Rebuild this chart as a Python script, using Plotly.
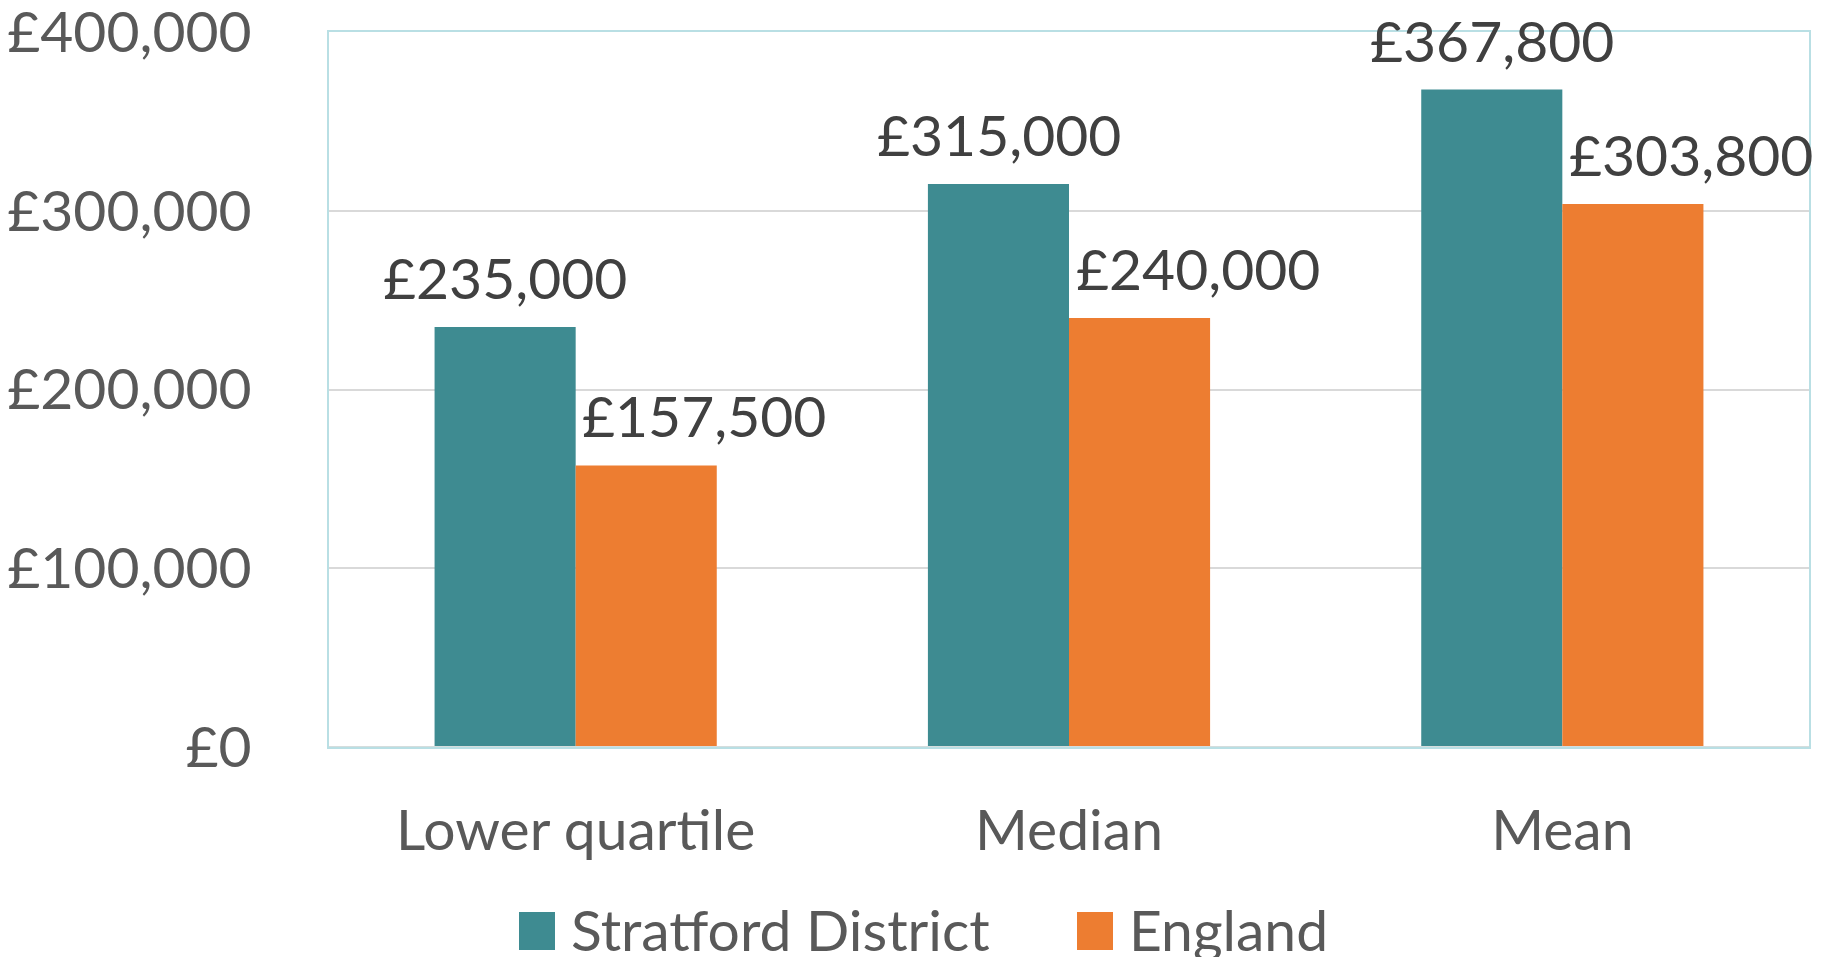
import plotly.graph_objects as go

categories = ["Lower quartile", "Median", "Mean"]
stratford = [235000, 315000, 367800]
england = [157500, 240000, 303800]
series_names = ["Stratford District", "England"]
y_tickvals = [0, 100000, 200000, 300000, 400000]
y_ticktext = ["£0", "£100,000", "£200,000", "£300,000", "£400,000"]

TEAL = "#3E8B91"
ORANGE = "#ED7D31"
FONT = "Lato"
FS = 57

# layout geometry (pixels); page body adds an 8px offset, so the figure is
# sized to fit the 1822x957 window exactly
OFF = 8
W, H = 1822 - OFF, 957 - OFF
ML, MR, MT, MB = 321, 13, 24, 210
PW = W - ML - MR
PH = H - MT - MB
BAR_PX = 141

fig = go.Figure()
series = [(series_names[0], stratford, TEAL), (series_names[1], england, ORANGE)]
for name, vals, col in series:
    fig.add_trace(go.Bar(
        x=categories, y=vals, name=name,
        marker=dict(color=col, line=dict(width=0)),
        showlegend=False, cliponaxis=False,
    ))

# data labels
for i, (name, vals, col) in enumerate(series):
    for c, v in zip(categories, vals):
        xs = -BAR_PX / 2 if i == 0 else BAR_PX / 2 + 58
        fig.add_annotation(x=c, y=v, xref="x", yref="y", text=f"£{v:,}",
                           showarrow=False, xshift=xs, yshift=50,
                           xanchor="center", yanchor="middle",
                           font=dict(family=FONT, size=FS, color="#404040"))

# legend (drawn manually to match large square swatches); positions in screen px
def px2paper_x(px):
    return (px - OFF - ML) / PW

def px2paper_y(py):
    return (H - MB - (py - OFF)) / PH

legend_items = [(series_names[0], TEAL, 519), (series_names[1], ORANGE, 1077)]
for name, col, x0 in legend_items:
    fig.add_shape(type="rect", xref="paper", yref="paper",
                  x0=px2paper_x(x0), x1=px2paper_x(x0 + 36),
                  y0=px2paper_y(950), y1=px2paper_y(912),
                  fillcolor=col, line=dict(width=0))
    fig.add_annotation(xref="paper", yref="paper", x=px2paper_x(x0 + 50),
                       y=px2paper_y(929), text=name, showarrow=False,
                       xanchor="left", yanchor="middle",
                       font=dict(family=FONT, size=FS, color="#595959"))

fig.update_layout(
    width=W, height=H,
    margin=dict(l=ML, r=MR, t=MT, b=MB),
    barmode="group", bargap=0.428, bargroupgap=0,
    plot_bgcolor="white", paper_bgcolor="white",
    font=dict(family=FONT, size=FS, color="#595959"),
    showlegend=False,
)
fig.update_yaxes(range=[0, 400000], tickvals=y_tickvals, ticktext=y_ticktext,
                 showgrid=True, gridcolor="#D9D9D9", gridwidth=1.5,
                 showline=True, mirror=True, linecolor="#B9DFE4", linewidth=2,
                 zeroline=False, ticks="", ticklabelstandoff=64,
                 ticklabeloverflow="allow", automargin=False,
                 tickfont=dict(family=FONT, size=FS, color="#595959"))
fig.update_xaxes(range=[-0.5, len(categories) - 0.5],
                 showline=True, mirror=True, linecolor="#B9DFE4", linewidth=2,
                 ticks="", ticklabelstandoff=33, automargin=False,
                 ticklabeloverflow="allow",
                 tickfont=dict(family=FONT, size=FS, color="#595959"))
fig.add_hline(y=0, line=dict(color="#D5DDDD", width=2), layer="above")

fig.write_html("out.html")
